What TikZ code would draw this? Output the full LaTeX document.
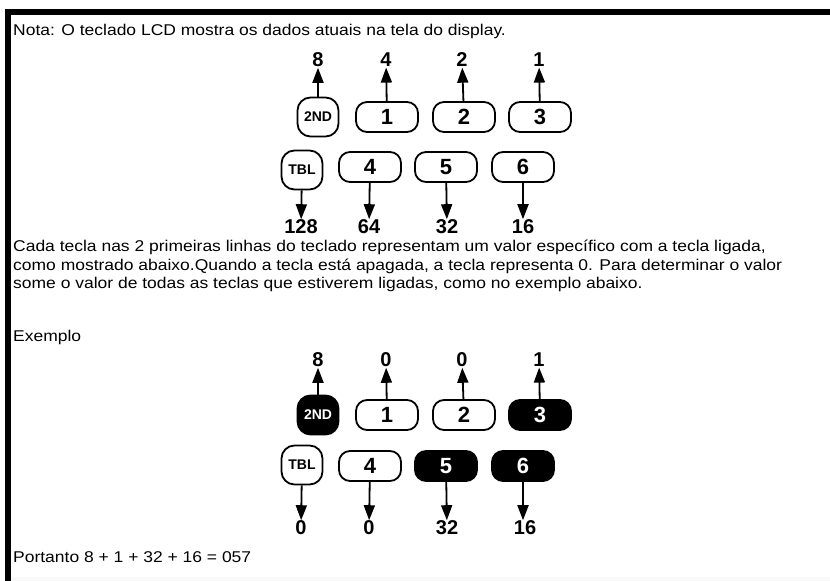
\documentclass[tikz,border=0pt]{standalone}
\usepackage{fontspec}
\setmainfont{Liberation Sans}
\newfontfamily\bodyfont{Liberation Sans}[FakeStretch=1.12]
\usetikzlibrary{arrows.meta}

\tikzset{
  keybox/.style={draw, line width=1.8pt, rounded corners=11pt, minimum width=62pt, minimum height=30pt, inner sep=0pt, font=\fontsize{22}{22}\selectfont\bfseries},
  modkey/.style={keybox, minimum width=41pt, minimum height=39pt, rounded corners=13pt, font=\fontsize{14}{14}\selectfont\bfseries},
  onkey/.style={fill=black, text=white},
  valnum/.style={inner sep=0.5pt, font=\fontsize{20}{20}\selectfont\bfseries},
  valarrow/.style={line width=1.8pt, -{Triangle[width=11pt,length=15pt]}},
  bodytext/.style={inner sep=0pt, font=\bodyfont\fontsize{15.6}{18.5}\selectfont, align=left}
}

\begin{document}
\begin{tikzpicture}[x=1pt, y=-1pt]
  \useasboundingbox (0,0) rectangle (830,581);
  % frame
  \fill[black] (5,9) rectangle (830,15);
  \fill[black] (5,9) rectangle (11,581);
  \fill[gray!5] (11,577) rectangle (830,581);

  \node[bodytext, anchor=base west] (nota) at (13,35) {Nota: O teclado LCD mostra os dados atuais na tela do display.};

  % Keys with their values
  \node[modkey] (k2nd) at (318,117) {2ND};
  \node[keybox] (k1) at (387,117) {1};
  \node[keybox] (k2) at (464,117) {2};
  \node[keybox] (k3) at (540,117) {3};
  \node[modkey] (ktbl) at (302,170) {TBL};
  \node[keybox] (k4) at (370,167) {4};
  \node[keybox] (k5) at (446,167) {5};
  \node[keybox] (k6) at (523,167) {6};

  \node[valnum] (v8) at (318,60) {8};
  \node[valnum] (v4) at (386,60) {4};
  \node[valnum] (v2) at (462,60) {2};
  \node[valnum] (v1) at (539,60) {1};
  \node[valnum] (v128) at (301,227) {128};
  \node[valnum] (v64) at (369,227) {64};
  \node[valnum] (v32) at (447,227) {32};
  \node[valnum] (v16) at (523,227) {16};

  \draw[valarrow] (k2nd) -- (v8);
  \draw[valarrow] (k1) -- (v4);
  \draw[valarrow] (k2) -- (v2);
  \draw[valarrow] (k3) -- (v1);
  \draw[valarrow] (ktbl) -- (v128);
  \draw[valarrow] (k4) -- (v64);
  \draw[valarrow] (k5) -- (v32);
  \draw[valarrow] (k6) -- (v16);

  \node[bodytext, anchor=north west] (regra) at (13,240) {Cada tecla nas 2 primeiras linhas do teclado representam um valor específico com a tecla ligada,\\
    como mostrado abaixo.Quando a tecla está apagada, a tecla representa 0. Para determinar o valor\\
    some o valor de todas as teclas que estiverem ligadas, como no exemplo abaixo.};

  \node[bodytext, anchor=base west] (exemplo) at (13,341) {Exemplo};

  % Example: keys that are on are black
  \node[modkey, onkey] (e2nd) at (318,415) {2ND};
  \node[keybox] (e1) at (387,415) {1};
  \node[keybox] (e2) at (464,415) {2};
  \node[keybox, onkey] (e3) at (540,415) {3};
  \node[modkey] (etbl) at (302,465) {TBL};
  \node[keybox] (e4) at (370,466) {4};
  \node[keybox, onkey] (e5) at (446,466) {5};
  \node[keybox, onkey] (e6) at (523,466) {6};

  \node[valnum] (w8) at (318,360) {8};
  \node[valnum] (w0a) at (386,360) {0};
  \node[valnum] (w0b) at (462,360) {0};
  \node[valnum] (w1) at (539,360) {1};
  \node[valnum] (w0c) at (301,528) {0};
  \node[valnum] (w0d) at (369,528) {0};
  \node[valnum] (w32) at (447,528) {32};
  \node[valnum] (w16) at (525,528) {16};

  \draw[valarrow] (e2nd) -- (w8);
  \draw[valarrow] (e1) -- (w0a);
  \draw[valarrow] (e2) -- (w0b);
  \draw[valarrow] (e3) -- (w1);
  \draw[valarrow] (etbl) -- (w0c);
  \draw[valarrow] (e4) -- (w0d);
  \draw[valarrow] (e5) -- (w32);
  \draw[valarrow] (e6.south) -- (e6.south |- w16.north);

  \node[bodytext, anchor=base west] (soma) at (13,562) {Portanto 8 + 1 + 32 + 16 = 057};
\end{tikzpicture}
\end{document}
